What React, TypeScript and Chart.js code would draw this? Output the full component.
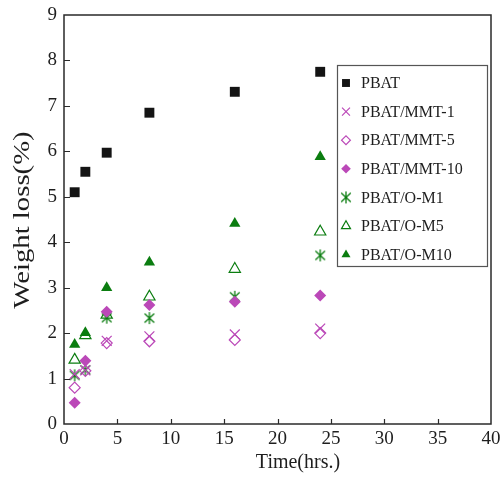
import React, { useEffect, useRef } from "react";
import { Chart, registerables } from "chart.js";
import { drawPoint } from "chart.js/helpers";

Chart.register(...registerables);

const times = [1, 2, 4, 8, 16, 24];
const pbat = [5.1, 5.55, 5.97, 6.85, 7.31, 7.75];
const mmt1 = [1.1, 1.18, 1.83, 1.93, 1.97, 2.1];
const mmt5 = [0.8, 1.17, 1.78, 1.82, 1.85, 2.0];
const mmt10 = [0.47, 1.39, 2.47, 2.62, 2.69, 2.83];
const om1 = [1.07, 1.19, 2.34, 2.33, 2.8, 3.71];
const om5 = [1.41, 1.95, 2.4, 2.8, 3.41, 4.23];
const om10 = [1.75, 2.01, 3.0, 3.56, 4.41, 5.88];
const seriesNames = ["PBAT", "PBAT/MMT-1", "PBAT/MMT-5", "PBAT/MMT-10", "PBAT/O-M1", "PBAT/O-M5", "PBAT/O-M10"];
const xTicks = [0, 5, 10, 15, 20, 25, 30, 35, 40];
const yTicks = [0, 1, 2, 3, 4, 5, 6, 7, 8, 9];
const xTitle = "Time(hrs.)";
const yTitle = "Weight loss(%)";

const BLACK = "#141414";
const MAG = "#bb48b8";
const GREEN = "#0b7d10";
const FONT = "'Liberation Serif', 'Times New Roman', serif";

function makeAsterisk(color: string) {
  const c = document.createElement("canvas");
  c.width = 14;
  c.height = 14;
  const g = c.getContext("2d")!;
  g.strokeStyle = color;
  g.lineWidth = 1.3;
  g.beginPath();
  g.moveTo(7, 1);
  g.lineTo(7, 13);
  g.moveTo(2.2, 2.5);
  g.lineTo(11.8, 11.5);
  g.moveTo(11.8, 2.5);
  g.lineTo(2.2, 11.5);
  g.stroke();
  return c;
}

export default function App() {
  const ref = useRef<HTMLCanvasElement | null>(null);
  useEffect(() => {
    if (!ref.current) return;
    const ast = makeAsterisk(GREEN);
    const vals = [pbat, mmt1, mmt5, mmt10, om1, om5, om10];
    const styles: any[] = [
      { pointStyle: "rect", radius: 7, bg: BLACK, bc: BLACK, bw: 0 },
      { pointStyle: "crossRot", radius: 7, bg: "rgba(0,0,0,0)", bc: MAG, bw: 1.2 },
      { pointStyle: "rectRot", radius: 5.5, bg: "rgba(0,0,0,0)", bc: MAG, bw: 1.2 },
      { pointStyle: "rectRot", radius: 6, bg: MAG, bc: MAG, bw: 0 },
      { pointStyle: ast, radius: 7, bg: GREEN, bc: GREEN, bw: 0 },
      { pointStyle: "triangle", radius: 6.5, bg: "rgba(0,0,0,0)", bc: GREEN, bw: 1.2 },
      { pointStyle: "triangle", radius: 6.5, bg: GREEN, bc: GREEN, bw: 0 },
    ];
    const datasets = seriesNames.map((name, i) => ({
      label: name,
      data: times.map((t, j) => ({ x: t, y: vals[i][j] })),
      showLine: false,
      pointStyle: styles[i].pointStyle,
      pointRadius: styles[i].radius,
      pointBackgroundColor: styles[i].bg,
      pointBorderColor: styles[i].bc,
      pointBorderWidth: styles[i].bw,
    }));

    const decor = {
      id: "decor",
      afterDraw(chart: any) {
        const ctx = chart.ctx;
        const a = chart.chartArea;
        const xs = chart.scales.x;
        const ys = chart.scales.y;
        ctx.save();
        ctx.strokeStyle = "#2a2a2a";
        ctx.lineWidth = 1.5;
        ctx.strokeRect(a.left, a.top, a.right - a.left, a.bottom - a.top);
        ctx.beginPath();
        xTicks.slice(1, -1).forEach((v) => {
          const px = Math.round(xs.getPixelForValue(v)) + 0.5;
          ctx.moveTo(px, a.bottom);
          ctx.lineTo(px, a.bottom - 5);
        });
        yTicks.slice(1, -1).forEach((v) => {
          const py = Math.round(ys.getPixelForValue(v)) + 0.5;
          ctx.moveTo(a.left, py);
          ctx.lineTo(a.left + 6, py);
        });
        ctx.lineWidth = 1.2;
        ctx.stroke();

        ctx.fillStyle = "#1e1e1e";
        ctx.font = `20px ${FONT}`;
        ctx.textAlign = "center";
        ctx.textBaseline = "middle";
        ctx.fillText(xTitle, 298, 463);
        ctx.save();
        ctx.translate(23, 220);
        ctx.rotate(-Math.PI / 2);
        ctx.scale(1.25, 1);
        ctx.font = `23px ${FONT}`;
        ctx.fillText(yTitle, 0, 0);
        ctx.restore();

        // legend
        const lx = 337.5, ly = 65.5, lw = 150, lh = 201;
        ctx.fillStyle = "#ffffff";
        ctx.fillRect(lx, ly, lw, lh);
        ctx.strokeStyle = "#555";
        ctx.lineWidth = 1.2;
        ctx.strokeRect(lx, ly, lw, lh);
        seriesNames.forEach((name, i) => {
          const cy = 83 + i * 28.6;
          const st = styles[i];
          ctx.save();
          ctx.fillStyle = st.bg;
          ctx.strokeStyle = st.bc;
          ctx.lineWidth = st.bw || 1;
          drawPoint(ctx, { pointStyle: st.pointStyle, radius: st.radius * 0.8, rotation: 0, borderWidth: st.bw } as any, 346, cy);
          ctx.restore();
          ctx.fillStyle = "#1e1e1e";
          ctx.font = `16px ${FONT}`;
          ctx.textAlign = "left";
          ctx.textBaseline = "middle";
          ctx.fillText(name, 361, cy + 1);
        });
        ctx.restore();
      },
    };

    const chart = new Chart(ref.current, {
      type: "scatter",
      data: { datasets },
      options: {
        animation: false,
        responsive: false,
        layout: { padding: { top: 15, right: 10, left: 0, bottom: 0 } },
        plugins: { legend: { display: false }, tooltip: { enabled: false } },
        scales: {
          x: {
            type: "linear",
            min: 0,
            max: 40,
            afterBuildTicks: (s: any) => { s.ticks = xTicks.map((v) => ({ value: v })); },
            ticks: { color: "#1e1e1e", font: { family: FONT, size: 19 }, padding: 4, maxRotation: 0 },
            grid: { display: false, drawTicks: false },
            border: { display: false },
            afterFit: (s: any) => { s.height = 54; s.paddingLeft = 0; s.paddingRight = 0; },
          },
          y: {
            type: "linear",
            min: 0,
            max: 9,
            afterBuildTicks: (s: any) => { s.ticks = yTicks.map((v) => ({ value: v })); },
            ticks: { color: "#1e1e1e", font: { family: FONT, size: 19 }, padding: 7 },
            grid: { display: false, drawTicks: false },
            border: { display: false },
            afterFit: (s: any) => { s.width = 64; s.paddingTop = 0; s.paddingBottom = 0; },
          },
        },
      },
      plugins: [decor],
    } as any);
    return () => chart.destroy();
  }, []);
  return (
    <div style={{ position: "absolute", left: 0, top: 0, width: 501, height: 478, background: "#fff" }}>
      <canvas ref={ref} width={501} height={478} style={{ width: 501, height: 478, display: "block" }} />
    </div>
  );
}
